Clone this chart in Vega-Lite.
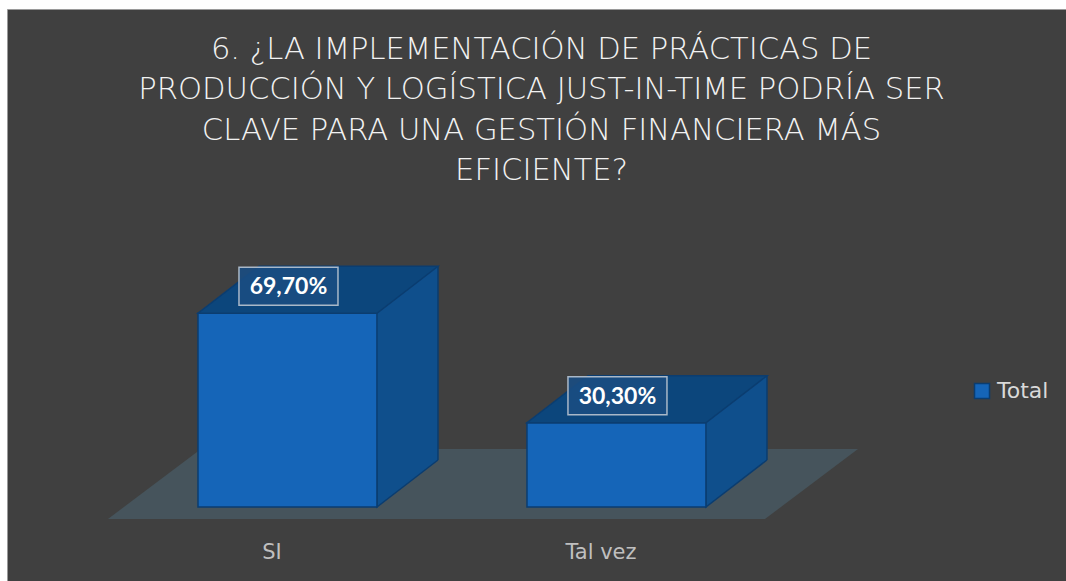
{
  "$schema": "https://vega.github.io/schema/vega-lite/v6.json",
  "autosize": {"type": "none"},
  "padding": {"left": 7, "top": 9, "right": 0, "bottom": 0},
  "width": 1059,
  "height": 572,
  "background": "white",
  "title": {
    "text": ["6. ¿LA IMPLEMENTACIÓN DE PRÁCTICAS DE", "PRODUCCIÓN Y LOGÍSTICA JUST-IN-TIME PODRÍA SER", "CLAVE PARA UNA GESTIÓN FINANCIERA MÁS", "EFICIENTE?"],
    "font": "DejaVu Sans",
    "fontWeight": 300,
    "fontSize": 30.6,
    "color": "#f2f2f2",
    "lineHeight": 40.5,
    "anchor": "middle",
    "baseline": "alphabetic",
    "offset": -202,
    "dx": 5
  },
  "data": {"values": [
    {"categoria": "SI", "valor": 0.697},
    {"categoria": "Tal vez", "valor": 0.303}
  ]},
  "encoding": {
    "x": {
      "field": "categoria", "type": "nominal",
      "scale": {"type": "band", "paddingInner": 0.456, "paddingOuter": 0.8375, "align": 0.3466},
      "axis": {
        "title": null, "domain": false, "ticks": false, "tickSize": 0, "grid": false,
        "labelAngle": 0, "labelFont": "DejaVu Sans", "labelFontSize": 21, "labelColor": "#bfbfbf",
        "labelBaseline": "alphabetic", "labelPadding": 0, "offset": -23, "labelOffset": -15.5
      }
    },
    "y": {
      "field": "valor", "type": "quantitative",
      "scale": {"domain": [-0.26616, 1.79139], "nice": false, "zero": false},
      "axis": null
    }
  },
  "layer": [
    {
      "transform": [{"filter": "datum.categoria == 'SI'"}],
      "mark": {"type": "point", "filled": true, "opacity": 1, "fill": "#46545c", "strokeWidth": 0,
        "shape": "M -1 0.0933 L 0.752 0.0933 L 1 -0.0933 L -0.752 -0.0933 Z",
        "size": 562500, "xOffset": 195.5, "yOffset": -23},
      "encoding": {"y": {"datum": 0}}
    },
    {
      "mark": {"type": "bar", "fill": "#0f4f8c", "strokeWidth": 0,
        "xOffset": 61, "x2Offset": 61, "yOffset": -47, "y2Offset": -47}
    },
    {
      "mark": {"type": "point", "filled": true, "opacity": 1, "fill": "#0f4f8c", "stroke": "#0b3d70", "strokeWidth": 1.5,
        "shape": "M 0 -0.47 L 0 0 L 0.61 -0.47", "size": 40000, "xOffset": 89.5},
      "encoding": {"y": {"datum": 0}}
    },
    {
      "mark": {"type": "rule", "stroke": "#0b3d70", "strokeWidth": 1.5,
        "xOffset": 150.5, "yOffset": -47, "y2Offset": -47},
      "encoding": {"y2": {"datum": 0}}
    },
    {
      "mark": {"type": "bar", "stroke": "#0b3d70", "strokeWidth": 1.5},
      "encoding": {
        "color": {"datum": "Total", "type": "nominal", "scale": {"range": ["#1565b8"]},
          "legend": {"title": null, "orient": "none", "legendX": 964, "legendY": 371,
            "symbolType": "square", "symbolSize": 225, "symbolStrokeColor": "#0b3d70", "symbolStrokeWidth": 1.5,
            "labelFont": "DejaVu Sans", "labelFontSize": 22, "labelColor": "#d9d9d9", "labelOffset": 4}}
      }
    },
    {
      "mark": {"type": "point", "filled": true, "opacity": 1, "fill": "#0c467c", "stroke": "#0b3d70", "strokeWidth": 1.5,
        "shape": "M -0.895 0 L 0.895 0 L 1.505 -0.47 L -0.285 -0.47 Z", "size": 40000}
    },
    {
      "mark": {"type": "point", "filled": true, "opacity": 1, "fill": "#1a4c82", "fillOpacity": 0.9, "stroke": "#a9b8c8", "strokeWidth": 1.5,
        "shape": "M -1 -0.384 L 1 -0.384 L 1 0.384 L -1 0.384 Z", "size": 9801, "xOffset": 1, "yOffset": -27}
    },
    {
      "mark": {"type": "text", "font": "Lato", "fontWeight": "bold", "fontSize": 23, "color": "#ffffff",
        "baseline": "middle", "align": "center", "xOffset": 1, "yOffset": -26},
      "encoding": {"text": {"field": "valor", "type": "quantitative", "format": ".2%"}}
    }
  ],
  "config": {
    "view": {"fill": "#404040", "stroke": "#9a9a9a", "strokeWidth": 1},
    "locale": {"number": {"decimal": ",", "thousands": ".", "grouping": [3], "currency": ["", " €"]}}
  }
}
